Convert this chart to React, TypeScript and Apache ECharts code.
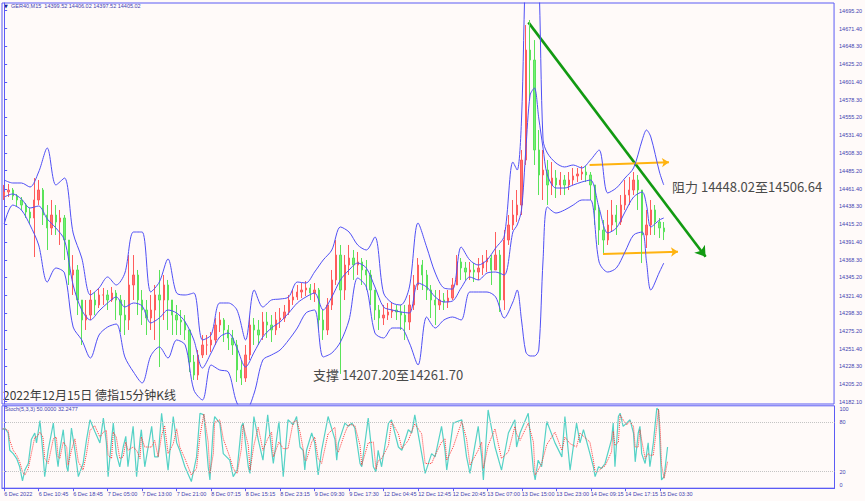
import React, { useEffect, useRef } from 'react';
import * as echarts from 'echarts';

const timeLabels = ['6 Dec 2022','6 Dec 10:45','6 Dec 18:45','7 Dec 05:00','7 Dec 13:00','7 Dec 21:00','8 Dec 07:15','8 Dec 15:15','8 Dec 23:15','9 Dec 09:30','9 Dec 17:30','12 Dec 04:45','12 Dec 12:45','12 Dec 20:45','13 Dec 07:00','13 Dec 15:00','13 Dec 23:00','14 Dec 09:15','14 Dec 17:15','15 Dec 03:30'];
const LABEL_EVERY = 8;
const TOTAL_SLOTS = 193;

const firstOpen = 14449.3;
const closes = [14457.2,14459.8,14451.9,14446.7,14440.1,14430.9,14423.1,14446.7,14459.8,14427.0,14410.0,14427.0,14417.8,14423.1,14394.2,14348.3,14354.9,14315.5,14289.3,14295.8,14315.5,14309.0,14322.1,14322.1,14315.5,14324.7,14315.5,14295.8,14289.3,14335.2,14348.3,14315.5,14302.4,14291.9,14302.4,14322.1,14315.5,14335.2,14315.5,14295.8,14289.3,14286.7,14276.2,14234.2,14217.1,14243.4,14256.5,14256.5,14263.1,14282.7,14289.3,14276.2,14265.7,14256.5,14223.7,14213.2,14243.4,14282.7,14276.2,14269.6,14286.7,14282.7,14276.2,14289.3,14291.9,14299.8,14315.5,14319.5,14326.0,14328.6,14331.3,14324.7,14328.6,14289.3,14276.2,14309.0,14341.8,14374.5,14328.6,14361.4,14370.6,14361.4,14365.4,14354.9,14348.3,14328.6,14302.4,14291.9,14295.8,14299.8,14302.4,14299.8,14295.8,14286.7,14309.0,14335.2,14361.4,14348.3,14328.6,14315.5,14309.0,14315.5,14312.9,14318.1,14335.2,14365.4,14357.5,14352.2,14354.9,14352.2,14357.5,14365.4,14370.6,14354.9,14374.5,14315.5,14394.2,14413.9,14427.0,14440.1,14499.1,14643.4,14630.3,14512.3,14479.5,14486.0,14466.4,14475.5,14466.4,14472.9,14466.4,14472.9,14478.2,14480.8,14483.4,14479.5,14466.4,14433.6,14407.3,14394.2,14413.9,14427.0,14417.8,14440.1,14453.2,14459.8,14472.9,14459.8,14400.8,14413.9,14433.6,14417.8,14410.0,14405.02];
const highs = [14466.4,14467.7,14462.4,14454.6,14450.6,14442.7,14436.2,14475.5,14472.9,14462.4,14440.1,14446.7,14440.1,14433.6,14427.0,14394.2,14374.5,14361.4,14315.5,14315.5,14328.6,14326.0,14331.3,14331.3,14328.6,14332.6,14328.6,14322.1,14315.5,14374.5,14374.5,14354.9,14328.6,14315.5,14322.1,14335.2,14354.9,14348.3,14341.8,14315.5,14309.0,14302.4,14295.8,14276.2,14243.4,14249.9,14269.6,14269.6,14273.5,14291.9,14299.8,14291.9,14282.7,14276.2,14263.1,14236.8,14256.5,14293.2,14291.9,14289.3,14299.8,14299.8,14295.8,14299.8,14305.0,14309.0,14322.1,14328.6,14335.2,14337.8,14340.4,14336.5,14337.8,14331.3,14302.4,14318.1,14354.9,14394.2,14387.7,14374.5,14387.7,14381.1,14378.5,14370.6,14368.0,14354.9,14328.6,14309.0,14309.0,14311.6,14312.9,14309.0,14309.0,14309.0,14322.1,14348.3,14370.6,14368.0,14354.9,14335.2,14328.6,14328.6,14324.7,14328.6,14344.4,14374.5,14370.6,14365.4,14365.4,14364.0,14370.6,14374.5,14381.1,14374.5,14404.7,14381.1,14407.3,14427.0,14446.7,14459.8,14512.3,14676.2,14682.8,14656.5,14538.5,14512.3,14499.1,14496.5,14486.0,14483.4,14479.5,14483.4,14488.7,14488.7,14491.3,14491.3,14483.4,14466.4,14440.1,14420.4,14433.6,14446.7,14440.1,14453.2,14472.9,14476.8,14483.4,14479.5,14459.8,14433.6,14446.7,14440.1,14423.1,14417.8];
const lows = [14446.7,14450.6,14446.7,14438.8,14433.6,14423.1,14415.2,14371.9,14440.1,14413.9,14381.1,14400.8,14400.8,14387.7,14368.0,14335.2,14322.1,14295.8,14256.5,14276.2,14289.3,14295.8,14305.0,14309.0,14302.4,14312.9,14289.3,14273.5,14269.6,14276.2,14315.5,14295.8,14282.7,14269.6,14276.2,14263.1,14227.6,14289.3,14276.2,14269.6,14269.6,14269.6,14263.1,14221.1,14210.6,14210.6,14239.4,14243.4,14247.3,14256.5,14273.5,14260.4,14249.9,14243.4,14208.0,14204.0,14208.0,14236.8,14256.5,14256.5,14263.1,14265.7,14260.4,14269.6,14278.8,14286.7,14295.8,14309.0,14315.5,14318.1,14320.8,14315.5,14312.9,14276.2,14263.1,14269.6,14302.4,14335.2,14218.5,14315.5,14348.3,14341.8,14348.3,14335.2,14328.6,14309.0,14289.3,14276.2,14282.7,14289.3,14291.9,14289.3,14276.2,14263.1,14276.2,14302.4,14328.6,14328.6,14315.5,14291.9,14282.7,14302.4,14302.4,14305.0,14315.5,14335.2,14341.8,14341.8,14341.8,14339.1,14341.8,14348.3,14352.2,14335.2,14354.9,14299.8,14302.4,14387.7,14407.3,14417.8,14427.0,14492.6,14577.8,14492.6,14453.2,14446.7,14440.1,14453.2,14449.3,14453.2,14453.2,14459.8,14466.4,14470.3,14472.9,14470.3,14446.7,14413.9,14387.7,14377.2,14387.7,14404.7,14400.8,14413.9,14433.6,14440.1,14453.2,14433.6,14364.0,14383.7,14400.8,14400.8,14396.8,14394.2];

const bandIdx = [0,2,4,6,8,10,12,14,16,18,20,22,24,26,28,30,32,34,36,38,40,42,44,46,48,50,52,54,56,58,60,62,64,66,68,70,72,74,76,78,80,82,84,86,88,90,92,94,96,98,100,102,104,106,108,110,112,114,116,118,119,120,121,122,123,124,125,126,128,130,132,134,136,138,140,142,144,146,148,149,150,152,153];
const bandUpper = [14472.9,14469.0,14469.0,14463.7,14483.4,14514.9,14466.4,14475.5,14403.4,14370.6,14322.1,14331.3,14345.7,14335.2,14350.9,14404.7,14404.7,14326.0,14339.1,14369.3,14324.7,14322.1,14324.7,14263.1,14269.6,14311.6,14311.6,14302.4,14263.1,14328.6,14306.3,14315.5,14316.8,14319.5,14339.1,14337.8,14352.2,14368.0,14381.1,14411.3,14404.7,14387.7,14381.1,14398.2,14324.7,14311.6,14309.0,14332.6,14416.5,14385.0,14350.9,14331.3,14329.9,14385.0,14368.0,14361.4,14368.0,14383.7,14399.5,14496.5,14486.0,14551.6,14760,14820,14800,14740,14525.4,14508.3,14495.2,14490.0,14492.6,14488.7,14499.1,14512.3,14455.9,14462.4,14475.5,14488.7,14525.4,14538.5,14529.3,14483.4,14466.4];
const bandMiddle = [14450.6,14454.6,14448.0,14436.2,14438.8,14421.8,14410.0,14394.2,14335.2,14302.4,14289.3,14301.1,14311.6,14319.5,14306.3,14311.6,14307.7,14285.4,14291.9,14302.4,14298.5,14286.7,14263.1,14226.3,14246.0,14267.0,14272.2,14252.6,14227.6,14247.3,14267.0,14278.8,14286.7,14298.5,14311.6,14319.5,14324.7,14302.4,14319.5,14341.8,14354.9,14364.0,14357.5,14332.6,14306.3,14302.4,14299.8,14298.5,14337.8,14332.6,14319.5,14312.9,14314.2,14331.3,14345.7,14341.8,14350.9,14352.2,14348.3,14404.7,14413.9,14433.6,14512.3,14584.4,14593.6,14554.2,14514.9,14479.5,14462.4,14462.4,14466.4,14470.3,14472.9,14436.2,14403.4,14410.0,14430.9,14450.6,14457.2,14440.1,14411.3,14420.4,14423.1];
const bandLower = [14415.2,14440.1,14433.6,14413.9,14387.7,14339.1,14357.5,14350.9,14280.1,14263.1,14239.4,14269.6,14280.1,14284.0,14240.8,14221.1,14206.7,14242.1,14253.9,14239.4,14263.1,14256.5,14197.5,14184.4,14230.3,14223.7,14221.1,14180.4,14170.0,14193.5,14236.8,14243.4,14249.9,14263.1,14278.8,14298.5,14302.4,14240.8,14246.0,14260.4,14289.3,14344.4,14332.6,14272.2,14265.7,14278.8,14278.8,14259.1,14230.3,14293.2,14278.8,14289.3,14293.2,14289.3,14326.0,14326.0,14326.0,14319.5,14291.9,14312.9,14328.6,14289.3,14247.3,14242.1,14242.1,14249.9,14368.0,14437.5,14429.6,14433.6,14440.1,14446.7,14446.7,14365.4,14352.2,14357.5,14378.5,14400.8,14404.7,14365.4,14328.6,14352.2,14364.0];

const stochIdx = [-0.4,0.15,0.93,1.3,2.1,2.9,3.6,4.25,4.8,5.6,6.3,7.1,7.5,8.3,9.0,9.4,10.2,11.4,12.1,12.5,12.9,13.7,14.5,14.8,15.6,16.4,17.2,18.3,19.1,19.9,21.0,22.2,23.0,23.7,24.1,24.9,25.3,26.0,26.8,27.6,28.2,28.7,29.9,30.7,31.5,31.8,32.6,34.2,34.9,35.7,36.5,37.2,38.0,39.2,40.0,40.7,41.9,43.4,44.6,45.4,46.3,47.3,47.7,48.5,48.8,50.0,50.8,52.3,53.1,54.0,55.0,55.4,56.6,57.0,57.9,58.9,60.0,61.1,62.0,62.4,63.7,64.7,65.8,67.0,67.8,68.6,69.3,69.7,70.1,71.3,72.0,72.8,73.6,75.1,76.7,77.1,77.5,79.0,79.8,80.6,81.3,82.5,82.9,84.4,85.6,86.2,86.7,87.5,89.1,89.8,91.4,92.2,93.7,94.5,95.2,96.8,97.6,99.1,99.9,101.4,102.2,102.6,104.1,106.1,107.2,108.0,109.9,110.7,111.1,112.2,113.8,115.3,116.9,118.4,118.8,119.6,121.5,122.7,123.1,123.8,124.6,125.8,127.7,129.3,130.0,131.2,132.7,133.5,134.3,135.8,136.6,137.0,137.8,138.5,139.3,140.8,141.2,141.6,142.4,142.8,143.5,144.3,145.1,145.9,146.3,147.0,147.4,147.8,148.6,149.3,149.7,150.5,151.3,151.7,152.1,152.4,153.0,153.8];
const stochMain = [71,73,67,46,42,36,26,9,22,30,59,67,55,82,42,14,46,79,42,26,46,71,26,20,73,46,14,30,59,83,69,55,85,55,14,59,79,42,26,50,63,26,75,14,59,71,26,75,38,38,91,59,22,87,55,46,26,8,38,91,89,26,10,75,87,79,42,34,14,22,75,79,26,18,87,59,34,89,46,30,81,14,83,77,87,50,46,22,46,67,55,16,46,87,59,34,55,79,75,79,73,30,26,85,26,20,46,26,79,83,50,46,71,67,89,42,18,42,38,75,46,22,79,83,38,18,75,38,10,95,50,22,67,83,50,67,91,22,10,34,26,81,55,38,87,22,79,55,71,42,26,14,26,24,30,59,79,26,87,91,75,79,83,67,32,67,75,42,30,55,26,55,97,95,46,10,14,50];
const stochSignal = [72,72,70,58,46,40,32,20,16,24,42,62,62,68,62,36,30,60,62,38,36,56,50,28,46,60,32,22,42,70,76,62,68,70,40,36,68,62,36,38,56,46,50,46,36,62,50,50,58,38,64,76,42,54,72,50,36,16,24,64,90,56,18,42,80,83,60,38,24,18,48,77,52,22,52,74,46,60,68,38,56,48,48,80,82,68,48,34,34,56,62,36,30,66,74,46,44,67,77,77,76,52,28,55,56,23,33,36,52,81,66,48,58,69,78,66,30,30,40,56,60,34,50,81,60,28,46,56,24,52,72,36,44,75,66,58,79,56,16,22,30,53,68,46,62,54,50,67,63,56,34,20,20,25,27,44,69,52,56,89,83,77,81,75,50,50,71,58,36,42,40,40,76,96,70,28,12,32];

const priceTicks = [14182.10,14205.20,14228.30,14251.40,14275.20,14298.30,14321.40,14345.20,14368.30,14391.40,14415.20,14438.30,14461.40,14485.20,14508.30,14531.40,14555.20,14578.30,14601.40,14625.20,14648.30,14671.40,14695.20];
const priceMin = 14179.1;
const priceMax = 14705.1;
const stochTicks = [0, 20, 80, 100];
const stochLevels = [80, 20];
const lastPrice = 14405.02;
const headerOHLC = ['14399.52', '14406.02', '14397.52', '14405.02'];
const stochHeader = ['50.0000', '32.2477'];

const trendLine = [[121.6, 14679.7], [162.7, 14372.3]];
const resistArrow = [[135.8, 14492.5], [154.2, 14496.1]];
const supportArrow = [[138.9, 14375.8], [156.3, 14378.8]];

const TINY = '"Liberation Sans Narrow", "Liberation Sans", sans-serif';
const CJK = '"Noto Sans CJK SC", "Noto Sans", sans-serif';
const AXIS_BLUE = '#5b5bf5';
const LABEL_BLUE = '#4242b0';

export default function App() {
  const ref = useRef<HTMLDivElement>(null);
  useEffect(() => {
    if (!ref.current) return;
    const chart = echarts.init(ref.current, undefined, { renderer: 'svg' });
    const cats = Array.from({ length: TOTAL_SLOTS }, (_, i) => String(i));
    const opens = closes.map((c, i) => (i === 0 ? firstOpen : closes[i - 1]));
    const candles = closes.map((c, i) => [opens[i], c, lows[i], highs[i]]);
    const pairs = (xs: number[], ys: number[]) => xs.map((x, i) => [x, ys[i]]);
    const gridLeft = 2;
    const gridWidth = 832.5;
    const labelInterval = (idx: number) => idx % LABEL_EVERY === 0 && idx / LABEL_EVERY < timeLabels.length;

    const bandLine = (name: string, ys: number[]) => ({
      name, type: 'line', xAxisIndex: 2, yAxisIndex: 0, data: pairs(bandIdx, ys),
      showSymbol: false, smooth: 0.3, clip: true, silent: true,
      lineStyle: { color: '#4f4ff5', width: 1 },
    });

    chart.setOption({
      animation: false,
      backgroundColor: '#fffaf9',
      grid: [
        { left: gridLeft, top: 3, width: gridWidth, height: 401, show: true, borderColor: AXIS_BLUE, borderWidth: 1 },
        { left: gridLeft, top: 405.8, width: gridWidth, height: 82.4, show: true, borderColor: AXIS_BLUE, borderWidth: 1 },
      ],
      xAxis: [
        { type: 'category', gridIndex: 0, data: cats, boundaryGap: true, axisLine: { show: false }, axisTick: { show: false }, axisLabel: { show: false } },
        {
          type: 'category', gridIndex: 1, data: cats, boundaryGap: true,
          axisLine: { show: true, lineStyle: { color: AXIS_BLUE, width: 1 } },
          axisTick: { show: true, interval: labelInterval, alignWithLabel: true, length: 3, lineStyle: { color: AXIS_BLUE } },
          axisLabel: {
            show: true, interval: labelInterval, align: 'left', margin: 3,
            fontFamily: TINY, fontSize: 5.5, color: LABEL_BLUE,
            formatter: (_v: string, idx: number) => timeLabels[idx / LABEL_EVERY] ?? '',
          },
        },
        { type: 'value', gridIndex: 0, min: -0.5, max: TOTAL_SLOTS - 0.5, show: false },
        { type: 'value', gridIndex: 1, min: -0.5, max: TOTAL_SLOTS - 0.5, show: false },
      ],
      yAxis: [
        {
          type: 'value', gridIndex: 0, position: 'right', min: priceMin, max: priceMax, scale: true,
          splitLine: { show: false },
          axisLine: { show: true, lineStyle: { color: AXIS_BLUE } },
          axisTick: { show: true, customValues: priceTicks, length: 3, lineStyle: { color: AXIS_BLUE } },
          axisLabel: { show: true, customValues: priceTicks, margin: 5, fontFamily: TINY, fontSize: 5.5, color: LABEL_BLUE, formatter: (v: number) => v.toFixed(2) },
        },
        {
          type: 'value', gridIndex: 1, position: 'right', min: 0, max: 100,
          splitLine: { show: false },
          axisLine: { show: true, lineStyle: { color: AXIS_BLUE } },
          axisTick: { show: true, customValues: stochTicks, length: 3, lineStyle: { color: AXIS_BLUE } },
          axisLabel: {
            show: true, customValues: stochTicks, margin: 5, fontFamily: TINY, fontSize: 5.5, color: LABEL_BLUE,
            formatter: (v: number) => (v === 100 ? '{t|100}' : v === 0 ? '{b|0}' : String(v)),
            rich: {
              t: { fontFamily: TINY, fontSize: 5.5, color: LABEL_BLUE, padding: [7, 0, 0, 0] },
              b: { fontFamily: TINY, fontSize: 5.5, color: LABEL_BLUE, padding: [0, 0, 6, 0] },
            },
          },
        },
      ],
      series: [
        bandLine('upper', bandUpper),
        bandLine('middle', bandMiddle),
        bandLine('lower', bandLower),
        {
          name: 'GER40', type: 'candlestick', xAxisIndex: 0, yAxisIndex: 0, data: candles, barWidth: 1.8,
          itemStyle: { color: '#ff7373', color0: '#74f074', borderColor: '#ff5c5c', borderColor0: '#5ae35a', borderWidth: 1 },
          markLine: {
            silent: true, symbol: 'none',
            lineStyle: { opacity: 0 },
            label: {
              show: true, position: 'end', distance: 2, formatter: () => lastPrice.toFixed(2),
              backgroundColor: '#00007f', color: '#ffffff', fontFamily: TINY, fontSize: 5.5, padding: [1, 2, 1, 2],
            },
            data: [{ yAxis: lastPrice }],
          },
        },
        {
          type: 'lines', coordinateSystem: 'cartesian2d', xAxisIndex: 2, yAxisIndex: 0, silent: true,
          symbol: ['none', 'arrow'], symbolSize: 10,
          lineStyle: { color: '#129a12', width: 2.6, opacity: 1 },
          data: [{ coords: trendLine }],
        },
        {
          type: 'lines', coordinateSystem: 'cartesian2d', xAxisIndex: 2, yAxisIndex: 0, silent: true,
          symbol: ['none', 'arrow'], symbolSize: 7,
          lineStyle: { color: '#ffb310', width: 2, opacity: 1 },
          data: [{ coords: resistArrow }, { coords: supportArrow }],
        },
        {
          name: 'stochMain', type: 'line', xAxisIndex: 3, yAxisIndex: 1, data: pairs(stochIdx, stochMain),
          showSymbol: false, silent: true, lineStyle: { color: '#55d2c6', width: 1.2 },
          markLine: {
            silent: true, symbol: 'none', label: { show: false },
            lineStyle: { color: '#c4c4c4', type: 'dotted', width: 1 },
            data: stochLevels.map((v) => ({ yAxis: v })),
          },
        },
        {
          name: 'stochSignal', type: 'line', xAxisIndex: 3, yAxisIndex: 1, data: pairs(stochIdx, stochSignal),
          showSymbol: false, silent: true, lineStyle: { color: '#ff3b3b', width: 1, type: 'dotted' },
        },
      ],
      graphic: [
        { type: 'text', left: 4, top: 3, style: { text: '▼', fontFamily: '"DejaVu Sans", sans-serif', fontSize: 5, fill: '#1e1e90' } },
        { type: 'text', left: 11, top: 3, style: { text: 'GER40,M15  ' + headerOHLC.join(' '), fontFamily: TINY, fontSize: 5.5, fill: LABEL_BLUE } },
        { type: 'text', left: 5, top: 406, style: { text: 'Stoch(5,3,3) ' + stochHeader.join(' '), fontFamily: TINY, fontSize: 5.5, fill: LABEL_BLUE } },
        { type: 'text', left: 672, top: 180, style: { text: '阻力 14448.02至14506.64', fontFamily: CJK, fontSize: 13, fill: '#4a4a4a' } },
        { type: 'text', left: 313, top: 368, style: { text: '支撑 14207.20至14261.70', fontFamily: CJK, fontSize: 13, fill: '#4a4a4a' } },
        { type: 'text', left: 3, top: 388, style: { text: '2022年12月15日 德指15分钟K线', fontFamily: CJK, fontSize: 12, fill: '#3a3a3a' } },
      ],
    });
    return () => chart.dispose();
  }, []);
  return <div ref={ref} style={{ position: 'absolute', left: 0, top: 0, width: 865, height: 501 }} />;
}
